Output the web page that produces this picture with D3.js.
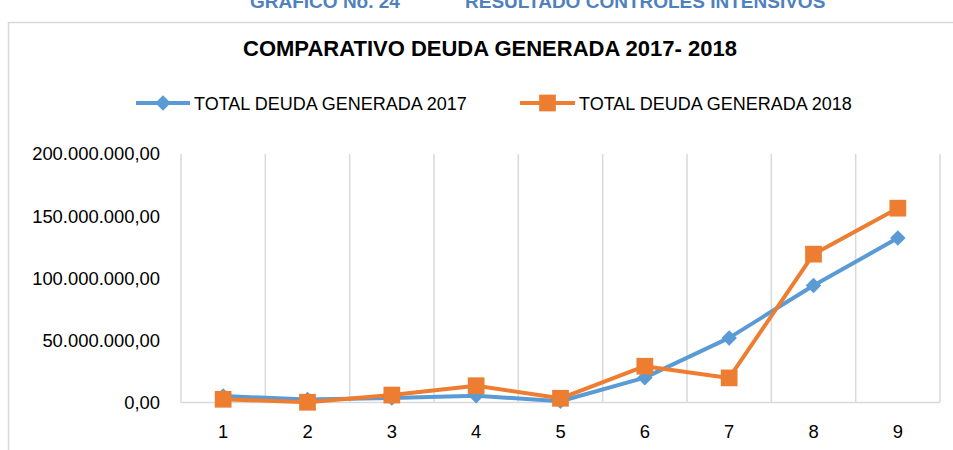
<!DOCTYPE html>
<html lang="es">
<head>
  <meta charset="UTF-8">
  <title>Comparativo deuda generada</title>
  <script src="https://d3js.org/d3.v7.min.js"></script>
  <style>
    body { margin: 0; background: #fff; }
    text { font-family: "Liberation Sans", Arial, sans-serif; fill: #000; }
  </style>
</head>
<body>
  <div class="canvas"></div>
  <script>
    // datos
    const categorias = [1, 2, 3, 4, 5, 6, 7, 8, 9];
    const deuda2017 = [5.2e6, 2.4e6, 3.6e6, 5.5e6, 1.0e6, 20e6, 52e6, 94.2e6, 132.3e6];
    const deuda2018 = [2.6e6, 0.2e6, 6.0e6, 13.5e6, 3.4e6, 29.2e6, 19.8e6, 119.4e6, 156.4e6];
    const yTicks = [0, 50e6, 100e6, 150e6, 200e6];
    const series = [
      { name: 'TOTAL DEUDA GENERADA 2017', values: deuda2017, color: '#5B9BD5', marker: 'diamond' },
      { name: 'TOTAL DEUDA GENERADA 2018', values: deuda2018, color: '#ED7D31', marker: 'square' }
    ];

    const width = 953;
    const height = 450;
    const [mt, mb, ml, mr] = [154, 47.5, 181, 13];

    const es = d3.formatLocale({ decimal: ',', thousands: '.', grouping: [3], currency: ['$', ''] });
    const fmt = es.format(',.2f');

    const svg = d3.select('.canvas')
                  .append('svg')
                  .attr('width', width)
                  .attr('height', height);

    svg.append('rect').attr('width', width).attr('height', height).attr('fill', '#fff');

    // encabezado cortado arriba
    svg.append('text').attr('x', 250).attr('y', 8)
       .style('font-weight', 'bold').style('font-size', '19px').style('fill', '#4F81BD')
       .text('GRAFICO No. 24');
    svg.append('text').attr('x', 465).attr('y', 8)
       .style('font-weight', 'bold').style('font-size', '19px').style('fill', '#4F81BD')
       .text('RESULTADO CONTROLES INTENSIVOS');

    // marco del grafico
    svg.append('rect')
       .attr('x', 8.5).attr('y', 22.5)
       .attr('width', 1000).attr('height', 600)
       .attr('fill', 'none').attr('stroke', '#D9D9D9').attr('stroke-width', 1.5);

    svg.append('text')
       .attr('x', 490).attr('y', 56)
       .attr('text-anchor', 'middle')
       .style('font-weight', 'bold').style('font-size', '22px')
       .text('COMPARATIVO DEUDA GENERADA 2017- 2018');

    const x = d3.scaleBand()
                .domain(categorias)
                .range([ml, width - mr]);

    const y = d3.scaleLinear()
                .domain([0, 200e6])
                .range([height - mb, mt]);

    // rombo = cuadrado girado 45 grados
    const symbols = { diamond: d3.symbol(d3.symbolSquare, 120), square: d3.symbol(d3.symbolSquare, 280) };
    const rot = { diamond: ' rotate(45)', square: '' };

    // lineas verticales de la cuadricula
    const bounds = categorias.map(c => x(c)).concat([x.range()[1]]);
    svg.append('g').selectAll('line').data(bounds).enter()
       .append('line')
       .attr('x1', d => d).attr('x2', d => d)
       .attr('y1', y(200e6)).attr('y2', y(0))
       .attr('stroke', '#D9D9D9').attr('stroke-width', 1.5);

    svg.append('line')
       .attr('x1', x.range()[0]).attr('x2', x.range()[1])
       .attr('y1', y(0)).attr('y2', y(0))
       .attr('stroke', '#D9D9D9').attr('stroke-width', 1.5);

    // eje y
    const yAxis = svg.append('g')
                     .attr('transform', 'translate(160,0)')
                     .call(d3.axisLeft(y).tickValues(yTicks).tickFormat(fmt).tickSize(0).tickPadding(0));
    yAxis.select('.domain').remove();
    yAxis.selectAll('text').style('font-size', '18.4px').style('font-family', '"Liberation Sans", Arial, sans-serif').attr('fill', '#000');

    // eje x
    const xAxis = svg.append('g')
                     .attr('transform', `translate(0,${y(0)})`)
                     .call(d3.axisBottom(x).tickSize(0).tickPadding(22));
    xAxis.select('.domain').remove();
    xAxis.selectAll('text').style('font-size', '18.4px').style('font-family', '"Liberation Sans", Arial, sans-serif').attr('fill', '#000');

    const line = d3.line()
                   .x((d, i) => x(categorias[i]) + x.bandwidth() / 2)
                   .y(d => y(d));

    series.forEach(s => {
      svg.append('path')
         .datum(s.values)
         .attr('d', line)
         .attr('fill', 'none')
         .attr('stroke', s.color)
         .attr('stroke-width', 4)
         .attr('stroke-linejoin', 'round');

      svg.append('g').selectAll('path').data(s.values).enter()
         .append('path')
         .attr('d', symbols[s.marker])
         .attr('transform', (d, i) => `translate(${x(categorias[i]) + x.bandwidth() / 2},${y(d)})${rot[s.marker]}`)
         .attr('fill', s.color);
    });

    // leyenda
    const legendPos = [{ x1: 136, x2: 190, tx: 194 }, { x1: 520, x2: 575, tx: 579 }];
    series.forEach((s, i) => {
      const p = legendPos[i];
      const g = svg.append('g');
      g.append('line')
       .attr('x1', p.x1).attr('x2', p.x2).attr('y1', 103).attr('y2', 103)
       .attr('stroke', s.color).attr('stroke-width', 4);
      g.append('path')
       .attr('d', symbols[s.marker])
       .attr('transform', `translate(${(p.x1 + p.x2) / 2},103)${rot[s.marker]}`)
       .attr('fill', s.color);
      g.append('text')
       .attr('x', p.tx).attr('y', 109.5)
       .style('font-size', '18px')
       .text(s.name);
    });
  </script>
</body>
</html>
